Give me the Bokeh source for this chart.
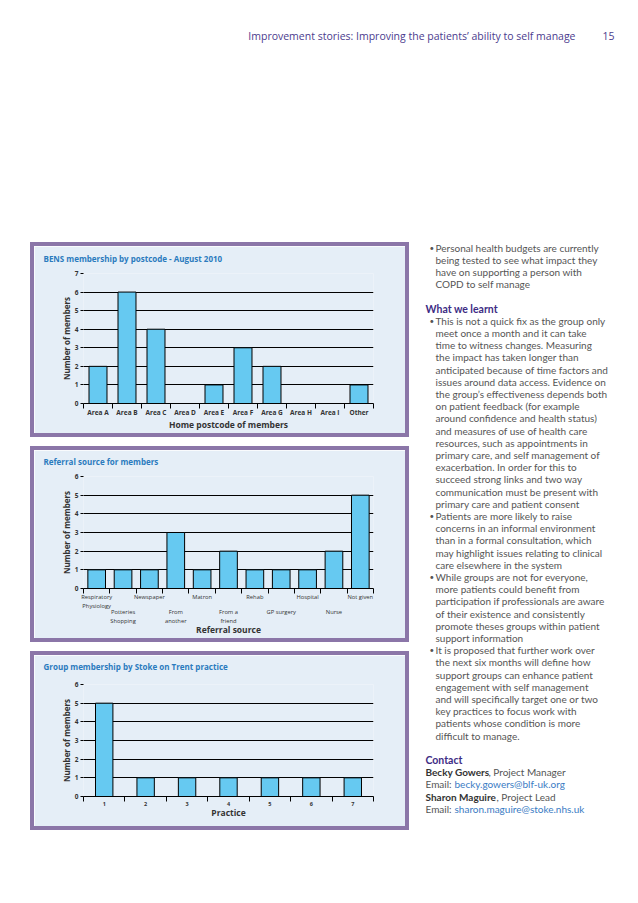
from bokeh.plotting import figure
from bokeh.models import Range1d, FixedTicker, LinearAxis, Spacer, ColumnDataSource
from bokeh.layouts import column, row
from bokeh.embed import file_html
from bokeh.resources import INLINE
from bokeh.core.properties import value

# ---------------- data ----------------
bens_areas = ["Area A", "Area B", "Area C", "Area D", "Area E", "Area F",
              "Area G", "Area H", "Area I", "Other"]
bens_members = [2, 6, 4, 0, 1, 3, 2, 0, 0, 1]

referral_sources = ["Respiratory\nPhysiology", "Potteries\nShopping", "Newspaper",
                    "From\nanother", "Matron", "From a\nfriend", "Rehab",
                    "GP surgery", "Hospital", "Nurse", "Not given"]
referral_members = [1, 1, 1, 3, 1, 2, 1, 1, 1, 2, 5]

practices = ["1", "2", "3", "4", "5", "6", "7"]
practice_members = [5, 1, 1, 1, 1, 1, 1]

header_text = "Improvement stories: Improving the patients\u2019 ability to self manage"
page_number = "15"

# ---------------- styles ----------------
PANEL_BG = "#E5EEF7"
BORDER = "#8B76A8"
BAR = "#66C9F1"
TITLE_C = "#2B7BBE"
FONT = "Open Sans"
BODY_FONT = "Lato"
TEXT_C = "#555555"
HEAD_C = "#3D2C84"
LINK_C = "#3A7CC4"


def panel(title, labels, vals, ymax, xlabel, h, ftop, fbot, fleft, fright,
          bar_w, tick_size, title_standoff, lab_off, axlab_off,
          stagger=False, tick_bold=True):
    n = len(labels)
    # CSS border is drawn inside the box; the canvas keeps the full size and its
    # last 8px on the right/bottom are hidden, so those borders include +8.
    p = figure(width=379, height=h, x_range=Range1d(-0.5, n - 0.5),
               y_range=Range1d(0, ymax), output_backend="svg",
               toolbar_location=None, x_axis_type=None,
               min_border_left=fleft, min_border_right=fright,
               min_border_top=ftop, min_border_bottom=fbot)
    p.styles = {"border": "4px solid " + BORDER}
    p.background_fill_color = PANEL_BG
    p.border_fill_color = PANEL_BG
    p.outline_line_color = None

    # an empty second line lifts the title further above the plot frame
    p.title.text = title + "\n "
    p.title.text_font = FONT
    p.title.text_font_size = "8px"
    p.title.text_font_style = "bold"
    p.title.text_color = TITLE_C
    p.title.align = "left"
    p.title.vertical_align = "bottom"
    p.title.offset = -40
    p.title.standoff = title_standoff

    yt = FixedTicker(ticks=list(range(ymax + 1)), minor_ticks=[])
    ya = p.yaxis[0]
    ya.ticker = yt
    ya.axis_line_color = None
    ya.major_tick_out = 3
    ya.major_tick_in = 0
    ya.minor_tick_out = 0
    ya.major_tick_line_color = "black"
    ya.major_label_standoff = 2
    ya.major_label_text_font = FONT
    ya.major_label_text_font_size = "6.5px"
    ya.major_label_text_font_style = "bold"
    ya.major_label_text_color = "#333333"
    ya.axis_label = "Number of members"
    ya.axis_label_text_font = FONT
    ya.axis_label_text_font_size = "8px"
    ya.axis_label_text_font_style = "bold"
    ya.axis_label_text_color = "#333333"
    ya.axis_label_standoff = 0

    p.xgrid.visible = False
    p.ygrid.ticker = yt
    p.ygrid.grid_line_color = "black"
    p.ygrid.grid_line_width = 1
    p.ygrid.grid_line_alpha = 1

    idx = list(range(n))
    src = ColumnDataSource(dict(x=idx, top=vals, label=labels))
    p.vbar(x="x", top="top", width=bar_w, source=src, fill_color=BAR,
           line_color="black", line_width=1)

    bounds = [i - 0.5 for i in range(n + 1)]

    def style_axis(ax):
        ax.major_tick_out = 0
        ax.major_tick_in = 0
        ax.minor_tick_in = 0
        ax.major_label_text_font = FONT
        ax.major_label_text_font_size = tick_size
        ax.major_label_text_font_style = "bold" if tick_bold else "normal"
        ax.major_label_text_color = "#333333"
        ax.axis_label_text_font = FONT
        ax.axis_label_text_font_size = "8.5px"
        ax.axis_label_text_font_style = "bold"
        ax.axis_label_text_color = "#333333"

    if not stagger:
        xa = LinearAxis(ticker=FixedTicker(ticks=idx, minor_ticks=bounds),
                        major_label_overrides={i: l for i, l in zip(idx, labels)})
        style_axis(xa)
        xa.minor_tick_out = 5
        xa.axis_line_color = "black"
        xa.major_label_standoff = lab_off[0]
        xa.axis_label = xlabel
        xa.axis_label_standoff = axlab_off
        p.add_layout(xa, "below")
    else:
        first = idx[0::2]
        second = idx[1::2]
        xa = LinearAxis(ticker=FixedTicker(ticks=first, minor_ticks=bounds),
                        major_label_overrides={i: labels[i] for i in first})
        style_axis(xa)
        xa.minor_tick_out = 5
        xa.axis_line_color = "black"
        xa.major_label_standoff = lab_off[0]
        p.add_layout(xa, "below")
        xb = LinearAxis(ticker=FixedTicker(ticks=second, minor_ticks=[]),
                        major_label_overrides={i: labels[i] for i in second})
        style_axis(xb)
        xb.minor_tick_out = 0
        xb.axis_line_color = None
        xb.major_label_standoff = lab_off[1]
        xb.axis_label = xlabel
        xb.axis_label_standoff = axlab_off
        p.add_layout(xb, "below")
    return p


p1 = panel("BENS membership by postcode - August 2010", bens_areas, bens_members, 7,
           "Home postcode of members", 195, 27, 38, 49, 40, 0.62, "6.5px", -2,
           (-1,), -1)
p2 = panel("Referral source for members", referral_sources, referral_members, 6,
           "Referral source", 196, 26, 58, 49, 39, 0.67, "5.8px", -2,
           (-1, -6), -4, stagger=True, tick_bold=False)
p3 = panel("Group membership by Stoke on Trent practice", practices, practice_members, 6,
           "Practice", 179, 29, 38, 49, 38, 0.42, "5.5px", 4,
           (0,), -2)


def text_fig(w, h):
    f = figure(width=w, height=h, x_range=Range1d(0, w), y_range=Range1d(h, 0),
               output_backend="svg", toolbar_location=None,
               x_axis_type=None, y_axis_type=None,
               min_border=0, min_border_left=0, min_border_right=0,
               min_border_top=0, min_border_bottom=0)
    f.grid.visible = False
    f.outline_line_color = None
    f.background_fill_color = "white"
    f.border_fill_color = "white"
    return f


# ---------------- header ----------------
hdr = text_fig(638, 242)
hdr.text(x=[575], y=[35], text=[header_text], text_font=value(FONT),
         text_font_size="10.5px", text_color="#4B3C8E", text_align="right",
         text_baseline="middle")
hdr.text(x=[602], y=[35], text=[page_number], text_font=value(FONT),
         text_font_size="10.5px", text_color="#4B3C8E", text_align="left",
         text_baseline="middle")

# ---------------- right column text ----------------
bullets = [
    (0, ["Personal health budgets are currently",
         "being tested to see what impact they",
         "have on supporting a person with",
         "COPD to self manage"]),
    (6, ["This is not a quick fix as the group only",
         "meet once a month and it can take",
         "time to witness changes.  Measuring",
         "the impact has taken longer than",
         "anticipated because of time factors and",
         "issues around data access.  Evidence on",
         "the group\u2019s effectiveness depends both",
         "on patient feedback (for example",
         "around confidence and health status)",
         "and measures of use of health care",
         "resources, such as appointments in",
         "primary care, and  self management of",
         "exacerbation. In order for this to",
         "succeed strong links and two way",
         "communication must be present with",
         "primary care and patient consent"]),
    (22, ["Patients are more likely to raise",
          "concerns in an informal environment",
          "than in a formal consultation, which",
          "may highlight issues relating to clinical",
          "care elsewhere in the system"]),
    (27, ["While groups are not for everyone,",
          "more patients could benefit from",
          "participation if professionals are aware",
          "of their existence and consistently",
          "promote theses groups within patient",
          "support information"]),
    (33, ["It is proposed that further work over",
          "the next six months will define how",
          "support groups can enhance patient",
          "engagement with self management",
          "and will specifically target one or two",
          "key practices to focus work with",
          "patients whose condition is more",
          "difficult to manage."]),
]

Y0 = 5.0
LS = 12.2
BODY_SIZE = "10px"

tf = text_fig(229, 585)
bx, by, tx, ty, tt = [], [], [], [], []
for start, lines in bullets:
    bx.append(20)
    by.append(Y0 + LS * start)
    for k, line in enumerate(lines):
        tx.append(26)
        ty.append(Y0 + LS * (start + k))
        tt.append(line)
tf.text(x=bx, y=by, text=["\u2022"] * len(bx), text_font=value(BODY_FONT),
        text_font_size="8px", text_color=TEXT_C, text_baseline="middle")
tf.text(x=tx, y=ty, text=tt, text_font=value(BODY_FONT), text_font_size=BODY_SIZE,
        text_color=TEXT_C, text_baseline="middle")

tf.text(x=[16, 16], y=[Y0 + LS * 5, Y0 + LS * 42], text=["What we learnt", "Contact"],
        text_font=value(BODY_FONT), text_font_size="10.5px", text_font_style="bold",
        text_color=HEAD_C, text_baseline="middle")
tf.text(x=[16, 16], y=[Y0 + LS * 43, Y0 + LS * 45], text=["Becky Gowers", "Sharon Maguire"],
        text_font=value(BODY_FONT), text_font_size=BODY_SIZE, text_font_style="bold",
        text_color="#333333", text_baseline="middle")
tf.text(x=[79, 87], y=[Y0 + LS * 43, Y0 + LS * 45],
        text=[", Project Manager", ", Project Lead"],
        text_font=value(BODY_FONT), text_font_size=BODY_SIZE,
        text_color=TEXT_C, text_baseline="middle")
tf.text(x=[16, 16], y=[Y0 + LS * 44, Y0 + LS * 46], text=["Email:", "Email:"],
        text_font=value(BODY_FONT), text_font_size=BODY_SIZE,
        text_color=TEXT_C, text_baseline="middle")
tf.text(x=[45, 45], y=[Y0 + LS * 44, Y0 + LS * 46],
        text=["becky.gowers@blf-uk.org", "sharon.maguire@stoke.nhs.uk"],
        text_font=value(BODY_FONT), text_font_size=BODY_SIZE,
        text_color=LINK_C, text_baseline="middle")

left = column(p1, p2, p3, spacing=9)
body = row(Spacer(width=30, height=10), left, tf)
page = column(hdr, body)

open("out.html", "w").write(file_html(page, INLINE))
